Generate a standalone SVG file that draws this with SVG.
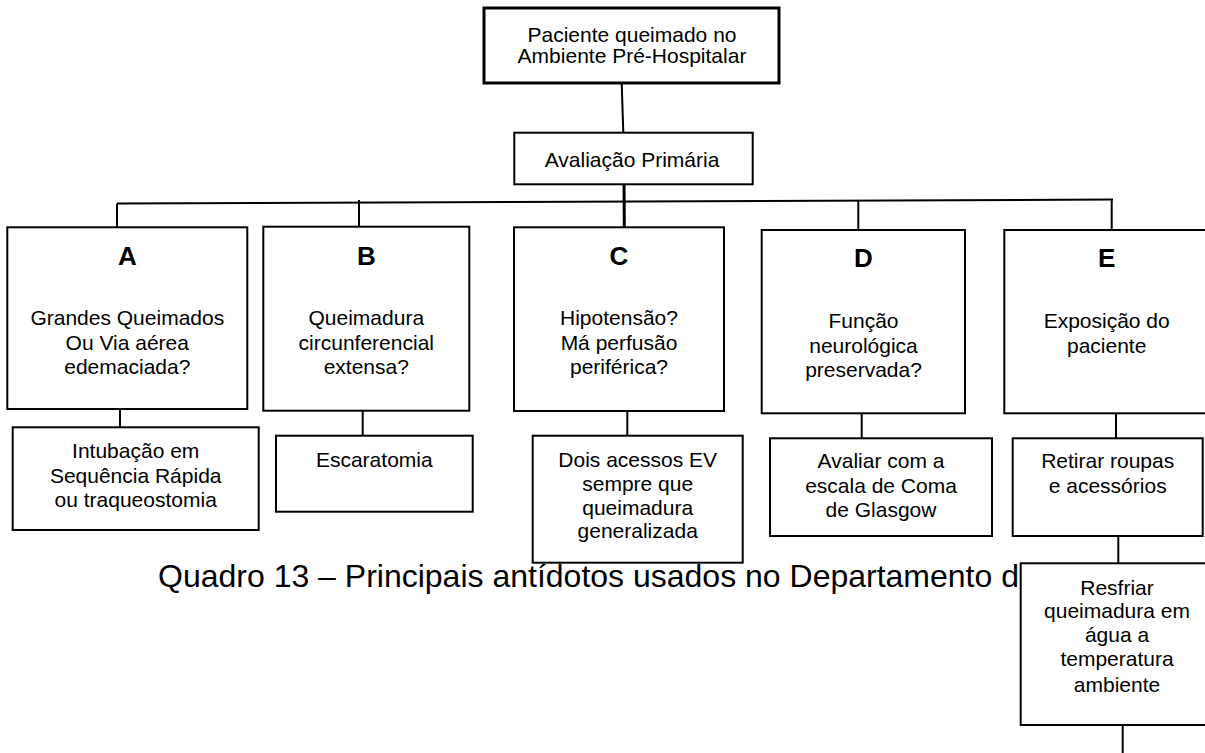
<svg xmlns="http://www.w3.org/2000/svg" width="1205" height="753" viewBox="0 0 1205 753">
  <style>
    .box { fill: #ffffff; stroke: #000000; stroke-width: 2; }
    .box-main { fill: #ffffff; stroke: #000000; stroke-width: 3; }
    .lbl { font-family: "Liberation Sans", Arial, sans-serif; font-size: 21px; fill: #000000; text-anchor: middle; }
    .key { font-family: "Liberation Sans", Arial, sans-serif; font-size: 26px; font-weight: bold; fill: #000000; text-anchor: middle; }
    .caption { font-family: "Liberation Sans", Arial, sans-serif; font-size: 32px; fill: #000000; }
    .link { stroke: #000000; stroke-width: 2; fill: none; }
    .link-thick { stroke: #000000; stroke-width: 3; fill: none; }
  </style>
  <rect width="1205" height="753" fill="#ffffff"/>

  <!-- connectors -->
  <g id="connectors">
    <line class="link" x1="621.7" y1="83" x2="623.3" y2="133"/>
    <line class="link-thick" x1="624" y1="176" x2="624.3" y2="227"/>
    <line class="link" x1="117" y1="203.5" x2="1113" y2="199.5"/>
    <line class="link" x1="117" y1="203.5" x2="117" y2="227.3"/>
    <line class="link" x1="359" y1="200" x2="359" y2="226.7"/>
    <line class="link" x1="858.3" y1="200" x2="858.3" y2="230"/>
    <line class="link" x1="1111.7" y1="199.5" x2="1111.7" y2="230"/>
    <line class="link" x1="120" y1="409" x2="120" y2="427.3"/>
    <line class="link" x1="362.7" y1="410.7" x2="362.7" y2="435.7"/>
    <line class="link" x1="627.3" y1="411" x2="627.3" y2="435.7"/>
    <line class="link" x1="861.7" y1="413.3" x2="861.7" y2="438.3"/>
    <line class="link" x1="1116" y1="413.3" x2="1116" y2="438.3"/>
    <line class="link" x1="1118.3" y1="536" x2="1118.3" y2="563.3"/>
    <line class="link" x1="1122.7" y1="725" x2="1122.7" y2="753"/>
  </g>

  <!-- root -->
  <g id="node-root">
    <rect class="box-main" x="484" y="8" width="295" height="75"/>
    <text class="lbl" x="632" y="41.7">Paciente queimado no</text>
    <text class="lbl" x="632" y="63.3">Ambiente Pré-Hospitalar</text>
  </g>

  <g id="node-primaria">
    <rect class="box" x="514.3" y="132.7" width="238.4" height="51.6"/>
    <text class="lbl" x="632" y="167">Avaliação Primária</text>
  </g>

  <!-- A -->
  <g id="node-a">
    <rect class="box" x="7.3" y="227.3" width="240" height="181.7"/>
    <text class="key" x="127.3" y="265">A</text>
    <text class="lbl" x="127.3" y="325">Grandes Queimados</text>
    <text class="lbl" x="127.3" y="350">Ou Via aérea</text>
    <text class="lbl" x="127.3" y="374.3">edemaciada?</text>
  </g>
  <g id="node-a-acao">
    <rect class="box" x="12.7" y="427.3" width="246" height="102.7"/>
    <text class="lbl" x="135.7" y="458.3">Intubação em</text>
    <text class="lbl" x="135.7" y="482.7">Sequência Rápida</text>
    <text class="lbl" x="135.7" y="506.7">ou traqueostomia</text>
  </g>

  <!-- B -->
  <g id="node-b">
    <rect class="box" x="263.3" y="226.7" width="206" height="184"/>
    <text class="key" x="366.3" y="265">B</text>
    <text class="lbl" x="366.3" y="325">Queimadura</text>
    <text class="lbl" x="366.3" y="350">circunferencial</text>
    <text class="lbl" x="366.3" y="374.3">extensa?</text>
  </g>
  <g id="node-b-acao">
    <rect class="box" x="276" y="435.7" width="196.7" height="76"/>
    <text class="lbl" x="374.3" y="466.7">Escaratomia</text>
  </g>

  <!-- C -->
  <g id="node-c">
    <rect class="box" x="514" y="227.3" width="210" height="183.7"/>
    <text class="key" x="619" y="265">C</text>
    <text class="lbl" x="619" y="325">Hipotensão?</text>
    <text class="lbl" x="619" y="350">Má perfusão</text>
    <text class="lbl" x="619" y="374.3">periférica?</text>
  </g>
  <g id="node-c-acao">
    <rect class="box" x="532.7" y="435.7" width="210" height="127"/>
    <text class="lbl" x="637.7" y="466.7">Dois acessos EV</text>
    <text class="lbl" x="637.7" y="491">sempre que</text>
    <text class="lbl" x="637.7" y="515">queimadura</text>
    <text class="lbl" x="637.7" y="538.3">generalizada</text>
  </g>

  <!-- D -->
  <g id="node-d">
    <rect class="box" x="761.7" y="230" width="203.3" height="183.3"/>
    <text class="key" x="863.5" y="267.3">D</text>
    <text class="lbl" x="863.5" y="328.3">Função</text>
    <text class="lbl" x="863.5" y="353.3">neurológica</text>
    <text class="lbl" x="863.5" y="377.3">preservada?</text>
  </g>
  <g id="node-d-acao">
    <rect class="box" x="770" y="438.3" width="222" height="97.7"/>
    <text class="lbl" x="881" y="468.3">Avaliar com a</text>
    <text class="lbl" x="881" y="493.3">escala de Coma</text>
    <text class="lbl" x="881" y="517.3">de Glasgow</text>
  </g>

  <!-- E -->
  <g id="node-e">
    <rect class="box" x="1004.3" y="230" width="205" height="183.3"/>
    <text class="key" x="1106.7" y="267.3">E</text>
    <text class="lbl" x="1106.7" y="328.3">Exposição do</text>
    <text class="lbl" x="1106.7" y="353.3">paciente</text>
  </g>
  <g id="node-e-acao">
    <rect class="box" x="1012.7" y="438.3" width="190" height="97.7"/>
    <text class="lbl" x="1107.7" y="468.3">Retirar roupas</text>
    <text class="lbl" x="1107.7" y="493.3">e acessórios</text>
  </g>

  <!-- caption line, partly covered by the cooling box -->
  <text class="caption" x="158" y="586.7">Quadro 13 – Principais antídotos usados no Departamento d</text>

  <g id="node-e-resfriar">
    <rect class="box" x="1020.7" y="563.3" width="192" height="161.7"/>
    <text class="lbl" x="1117" y="595">Resfriar</text>
    <text class="lbl" x="1117" y="618.3">queimadura em</text>
    <text class="lbl" x="1117" y="641.7">água a</text>
    <text class="lbl" x="1117" y="666">temperatura</text>
    <text class="lbl" x="1117" y="691.7">ambiente</text>
  </g>
</svg>
